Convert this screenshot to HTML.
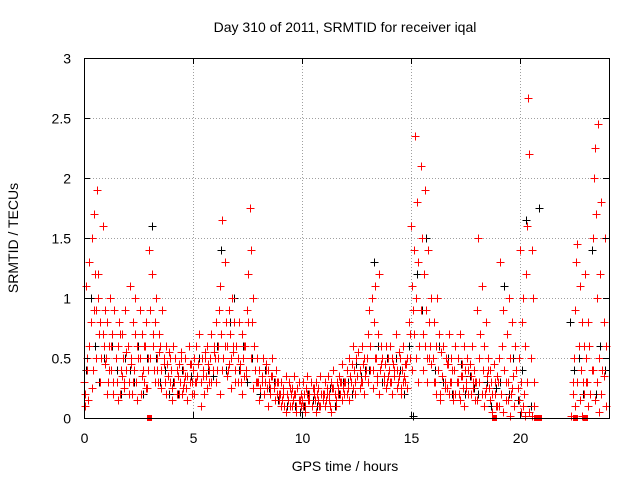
<!DOCTYPE html>
<html><head><meta charset="utf-8"><style>
body{margin:0;background:#fff}
svg{display:block;font-family:"Liberation Sans",sans-serif}
</style></head><body>
<svg id="chart" width="640" height="480" viewBox="0 0 640 480">
<rect width="640" height="480" fill="#fff"/>
<g id="grid"></g><g id="marks" shape-rendering="crispEdges"></g><g id="axes" shape-rendering="crispEdges"></g>
<text x="345" y="32" font-size="14" text-anchor="middle">Day 310 of 2011, SRMTID for receiver iqal</text>
<text x="345" y="471" font-size="14" text-anchor="middle">GPS time / hours</text>
<text transform="translate(18,238) rotate(-90)" font-size="14" text-anchor="middle">SRMTID / TECUs</text>
</svg>
<script>
const xTicks=[0,5,10,15,20];
const yTicks=[0,0.5,1,1.5,2,2.5,3];
const yTickLabels=["0","0.5","1","1.5","2","2.5","3"];
const N=null;
const redA=[0.3,0.2,1.1,0.5,0.15,1.3,0.8,1.5,0.4,1.7,1.2,0.9,1.9,1.0,0.7,0.8,0.5,1.6,0.6,0.9,
0.5,0.8,0.3,0.6,1.0,0.4,0.7,0.2,0.9,0.5,0.3,0.6,0.8,0.2,0.4,0.7,0.5,0.3,0.9,0.4,
0.6,0.3,1.1,0.5,0.2,0.8,0.4,1.0,0.3,0.6,0.5,0.9,0.2,0.7,0.4,0.3,0.6,0.8,0.25,0.5,
1.4,0.9,1.2,0.6,0.4,0.8,1.0,0.5,0.3,0.7,0.6,0.4,0.9,0.5,0.3,0.6,0.45,0.35,0.55,0.3,
0.4,0.25,0.6,0.3,0.5,0.2,0.35,0.45,0.3,0.55,0.2,0.4,0.3,0.5,0.25,0.35,0.6,0.3,0.45,0.2,
0.4,0.5,0.3,0.6,0.35,0.45,0.7,0.3,0.5,0.4,0.2,0.55,0.35,0.6,0.45,0.3,0.5,0.7,0.4,0.6,
0.5,0.8,0.4,0.6,0.9,1.1,0.7,1.65,0.5,1.3,0.8,0.6,0.4,0.9,0.7,0.5,1.0,0.6,0.8,0.4,
0.6,0.5,0.8,0.4,0.3,0.7,0.5,0.35,0.6,0.4,0.9,1.2,1.75,1.4,0.8,1.0,0.6,0.4,0.3,0.5,
0.3,0.4,0.25,0.35,0.5,0.2,0.3,0.45,0.25,0.4,0.3,0.2,0.35,0.5,0.25,0.3,0.4,0.2,0.3,0.15,
0.2,0.3,0.15,0.25,0.1,0.35,0.2,0.15,0.3,0.1,0.2,0.25,0.15,0.35,0.2,0.1,0.25,0.3,0.15,0.2,
0.15,0.3,0.2,0.1,0.25,0.35,0.15,0.2,0.3,0.1,0.25,0.2,0.15,0.3,0.2,0.25,0.1,0.35,0.2,0.15,
0.2,0.3,0.15,0.25,0.35,0.2,0.1,0.3,0.25,0.4,0.2,0.15,0.3,0.25,0.35,0.2,0.3,0.45,0.25,0.3,
0.3,0.4,0.25,0.5,0.35,0.3,0.45,0.6,0.4,0.3,0.5,0.35,0.55,0.4,0.3,0.6,0.45,0.5,0.35,0.4,
0.5,0.7,0.9,0.6,1.0,0.4,0.8,1.1,0.5,0.3,0.7,1.2,0.4,0.6,0.5,0.35,0.45,0.6,0.3,0.5,
0.4,0.6,0.3,0.5,0.45,0.35,0.7,0.4,0.3,0.55,0.5,0.25,0.4,0.6,0.35,0.3,0.45,0.5,0.8,0.7,
1.6,1.1,0.9,1.4,2.35,1.0,1.8,1.3,0.6,2.1,1.5,0.7,1.2,1.9,0.9,0.5,1.4,0.8,0.6,1.0,
0.5,0.8,0.3,0.6,1.0,0.4,0.7,0.2,0.55,0.35,0.6,0.3,0.5,0.25,0.45,0.7,0.3,0.5,0.4,0.2,
0.4,0.6,0.3,0.5,0.2,0.7,0.35,0.45,0.25,0.6,0.4,0.3,0.5,0.2,0.45,0.35,0.6,0.25,0.4,0.3,
0.3,0.9,1.5,0.5,0.7,1.1,0.4,0.6,0.2,0.8,0.35,0.5,0.25,0.4,0.3,0.2,0.45,0.3,0.1,0.35,
0.3,0.5,1.3,0.2,0.6,0.9,0.4,0.15,0.7,0.3,1.0,0.5,0.2,0.8,0.35,0.1,0.6,0.4,0.25,0.5,
1.4,0.3,0.8,1.0,0.2,0.6,1.2,1.6,2.67,2.2,0.5,1.4,1.0,0.3,N,N,N,N,N,N,
N,N,N,N,N,N,N,N,N,N,N,N,N,N,N,N,N,N,N,N,
N,N,N,N,N,N,N,N,N,0.3,0.5,0.9,1.3,1.45,0.6,1.1,0.4,0.8,0.3,0.6,
1.2,0.5,0.3,0.8,0.6,0.2,0.4,1.5,2.0,2.25,1.7,1.0,2.45,0.5,1.2,1.8,0.4,0.8,1.5,0.6];
const redB=[0.1,0.4,0.6,0.25,0.9,0.5,1.2,0.3,0.7,0.45,
0.2,0.4,0.6,0.3,0.5,0.15,0.7,0.35,0.25,0.55,
0.2,0.45,0.3,0.7,0.15,0.5,0.35,0.6,0.25,0.4,
0.5,0.7,0.3,0.4,0.55,0.25,0.45,0.2,0.35,0.5,
0.15,0.3,0.4,0.2,0.5,0.25,0.35,0.15,0.45,0.3,
0.2,0.3,0.45,0.1,0.35,0.5,0.25,0.4,0.3,0.55,
0.3,0.5,0.2,0.4,0.6,0.35,0.45,0.25,0.55,0.3,
0.3,0.45,0.2,0.6,0.35,0.8,0.5,0.25,0.4,0.3,
0.15,0.3,0.2,0.4,0.1,0.25,0.35,0.15,0.3,0.2,
0.1,0.2,0.05,0.15,0.25,0.1,0.2,0.05,0.15,0.1,
0.1,0.05,0.2,0.15,0.1,0.25,0.05,0.15,0.1,0.2,
0.1,0.2,0.15,0.05,0.25,0.1,0.2,0.3,0.15,0.2,
0.2,0.15,0.3,0.25,0.2,0.35,0.25,0.3,0.2,0.4,
0.3,0.4,0.25,0.5,0.35,0.2,0.45,0.3,0.25,0.35,
0.3,0.2,0.4,0.25,0.35,0.2,0.3,0.45,0.25,0.5,
0.4,0.7,0.5,0.3,0.9,0.4,0.6,0.3,0.5,0.45,
0.3,0.2,0.4,0.15,0.35,0.25,0.45,0.2,0.3,0.15,
0.2,0.3,0.15,0.35,0.1,0.25,0.4,0.2,0.3,0.15,
0.15,0.3,0.2,0.1,0.25,0.4,0.15,0.05,0.2,0.1,
0.1,0.2,0.05,0.3,0.15,0.02,0.25,0.1,0.4,0.15,
0.05,0.1,0.02,0.3,0.05,0.02,0.1,N,N,N,
N,N,N,N,N,N,N,N,N,N,
N,N,N,0.02,0.2,0.1,0.3,0.15,0.02,0.2,
0.3,0.1,0.2,0.4,0.15,0.3,0.05,0.2,0.35,0.1];
const black=[0.4,1.0,0.6,0.3,0.5, 0.3,0.6,0.4,0.2,0.5, 0.4,0.3,0.6,0.2,0.5, 1.6,0.5,0.3,0.4,0.2,
0.3,0.2,0.4,0.25,0.35, 0.3,0.5,0.2,0.4,0.35, 0.6,1.4,0.4,0.8,1.0, 0.4,0.6,0.3,0.5,0.3,
0.2,0.4,0.25,0.3,0.15, 0.15,0.1,0.2,0.1,0.05, 0.1,0.2,0.15,0.1,0.2, 0.15,0.25,0.1,0.2,0.3,
0.3,0.2,0.45,0.35,0.4, 0.4,1.3,0.6,0.3,0.5, 0.3,0.5,0.4,0.2,0.6, 0.02,1.2,0.9,1.5,0.6,
0.4,0.6,0.3,0.5,0.2, 0.3,0.45,0.2,0.35,0.25, 0.2,0.4,0.3,0.1,0.25, 0.3,1.1,0.2,0.5,0.15,
0.4,1.65,0.1,N,1.75, N,N,N,N,N, N,0.8,0.4,0.5,0.2, 0.3,1.4,0.2,0.6,0.4];
const zeroHours=[3.0,18.8,20.75,20.9,22.55,23.0];
const X0=84,X1=609,Y0=418,Y1=58;
const xs=h=>X0+h*(X1-X0)/24.1;
const ys=v=>Y0-v*(Y0-Y1)/3;
const NS="http://www.w3.org/2000/svg";
function mk(tag,attrs,parent){const e=document.createElementNS(NS,tag);for(const k in attrs)e.setAttribute(k,attrs[k]);parent.appendChild(e);return e;}
const grid=document.getElementById('grid'),marks=document.getElementById('marks'),axes=document.getElementById('axes');
xTicks.forEach(t=>{const x=Math.round(xs(t))+0.5;
 if(t>0){const g=mk('line',{x1:x,x2:x,y1:Y0,y2:Y1,stroke:'#a0a0a0','stroke-dasharray':'1,2'},grid);
 
 }
 mk('line',{x1:x,x2:x,y1:Y0,y2:Y0-6,stroke:'#000'},axes);
 mk('line',{x1:x,x2:x,y1:Y1,y2:Y1+6,stroke:'#000'},axes);
 const l=mk('text',{x:x,y:443,'font-size':14,'text-anchor':'middle'},axes);l.textContent=t;
 
 });
yTicks.forEach((t,i)=>{const y=Math.round(ys(t))+0.5;
 if(t>0&&t<3){const g=mk('line',{x1:X0,x2:X1,y1:y,y2:y,stroke:'#a0a0a0','stroke-dasharray':'1,2'},grid);
 
 }
 mk('line',{x1:X0,x2:X0+6,y1:y,y2:y,stroke:'#000'},axes);
 mk('line',{x1:X1,x2:X1-6,y1:y,y2:y,stroke:'#000'},axes);
 const l=mk('text',{x:71,y:y+5,'font-size':14,'text-anchor':'end'},axes);l.textContent=yTickLabels[i];
 
 });
const fr=mk('rect',{x:X0+0.5,y:Y1+0.5,width:X1-X0,height:Y0-Y1,fill:'none',stroke:'#000'},axes);


function plus(h,v,c,name){const x=Math.round(xs(h))+0.5,y=Math.round(ys(v))+0.5;
 const p=mk('path',{d:`M${x-4},${y}h8M${x},${y-4}v8`,stroke:c,'stroke-width':1,fill:'none'},marks);
 
 }
black.forEach((v,i)=>{if(v!==null)plus(i*0.2+0.1,v,'#000','black-point');});
redB.forEach((v,i)=>{if(v!==null)plus(i*0.1+0.05,v,'#f00','red-point');});
redA.forEach((v,i)=>{if(v!==null)plus(i*0.05,v,'#f00','red-point');});
zeroHours.forEach(h=>{const r=mk('rect',{x:Math.round(xs(h))-2,y:Y0-3,width:5,height:6,fill:'#f00'},marks);
 
 });
</script>
</body></html>
